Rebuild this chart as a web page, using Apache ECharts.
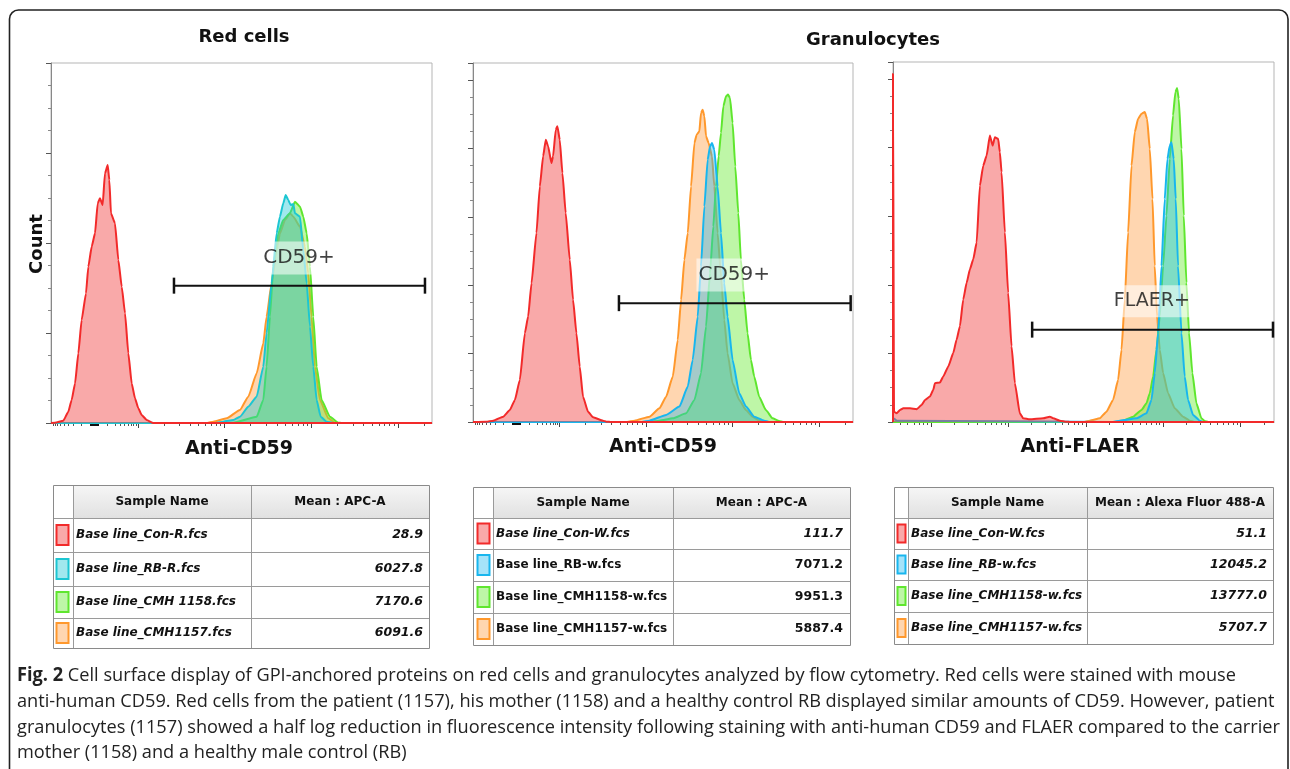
<!DOCTYPE html>
<html><head><meta charset="utf-8">
<script src="https://cdn.jsdelivr.net/npm/echarts@6/dist/echarts.min.js"></script>
<style>html,body{margin:0;padding:0;background:#fff;overflow:hidden}#c{width:1290px;height:769px}</style>
</head><body><div id="c"></div>
<script>
// ---------------- DATA ----------------
// x values are in decades of fluorescence (display units), y in relative count units
const panelTitles = ['Red cells', 'Granulocytes'];
const axisNames = ['Anti-CD59', 'Anti-CD59', 'Anti-FLAER'];
const yAxisName = 'Count';
const gateNames = ['CD59+', 'CD59+', 'FLAER+'];

const cd59Extent = [1.0, 5.39];
const flaerExtent = [0.51, 5.43];
const cd59MajorTicks = [2, 3, 4, 5];
const flaerMajorTicks = [1, 2, 3, 4, 5];
const cd59ZeroTick = [1.5];
const rbcCountMax = 4;
const granCountMax = 5.25;

// Panel 1: red cells, anti-CD59
const rbcCon = [[1.0,0],[1.046,0.003],[1.142,0.026],[1.20,0.126],[1.238,0.256],[1.277,0.44],[1.315,0.774],[1.353,1.144],[1.403,1.44],[1.43,1.737],[1.469,1.96],[1.507,2.107],[1.538,2.44],[1.564,2.496],[1.595,2.422],[1.622,2.774],[1.653,2.867],[1.672,2.70],[1.691,2.33],[1.737,2.219],[1.776,1.81],[1.815,1.514],[1.853,1.219],[1.891,0.774],[1.93,0.44],[1.968,0.274],[2.006,0.163],[2.045,0.089],[2.103,0.033],[2.179,0],[5.39,0]];
const rbcRB = [[1.0,0],[2.9,0],[2.985,0.015],[3.1,0.033],[3.177,0.07],[3.273,0.181],[3.37,0.293],[3.446,0.626],[3.484,0.996],[3.542,1.552],[3.6,2.107],[3.638,2.293],[3.676,2.441],[3.704,2.533],[3.734,2.478],[3.761,2.422],[3.792,2.433],[3.811,2.33],[3.869,2.293],[3.907,1.922],[3.946,1.552],[3.984,1.07],[4.022,0.626],[4.061,0.256],[4.107,0.07],[4.176,0.015],[4.25,0],[5.39,0]];
const rbcCMH1158 = [[1.0,0],[3.0,0],[3.1,0.004],[3.37,0.07],[3.446,0.256],[3.484,0.626],[3.523,1.181],[3.561,1.737],[3.619,2.107],[3.676,2.256],[3.753,2.33],[3.811,2.459],[3.869,2.404],[3.907,2.293],[3.946,2.107],[3.984,1.737],[4.022,1.181],[4.061,0.626],[4.118,0.256],[4.214,0.07],[4.31,0.004],[4.35,0],[5.39,0]];
const rbcCMH1157 = [[1.0,0],[2.8,0],[2.87,0.015],[3.024,0.052],[3.177,0.144],[3.273,0.293],[3.37,0.552],[3.446,0.885],[3.484,1.181],[3.542,1.552],[3.6,1.922],[3.638,2.107],[3.696,2.256],[3.753,2.33],[3.792,2.293],[3.869,2.181],[3.926,1.959],[3.964,1.663],[4.003,1.181],[4.041,0.626],[4.099,0.256],[4.195,0.052],[4.272,0.004],[4.3,0],[5.39,0]];

// Panel 2: granulocytes, anti-CD59
const granCon = [[1.0,0],[1.15,0.005],[1.234,0.02],[1.349,0.078],[1.426,0.176],[1.484,0.322],[1.541,0.615],[1.599,1.298],[1.637,1.542],[1.676,2.03],[1.733,2.763],[1.772,3.445],[1.81,3.885],[1.841,4.129],[1.868,4.031],[1.906,3.787],[1.925,3.885],[1.956,4.275],[1.975,4.324],[2.002,4.129],[2.033,3.641],[2.071,3.055],[2.118,2.372],[2.156,1.786],[2.195,1.298],[2.233,0.81],[2.271,0.37],[2.329,0.151],[2.387,0.068],[2.502,0.02],[2.54,0.005],[2.6,0],[5.39,0]];
const granRB = [[1.0,0],[2.95,0],[3.039,0.02],[3.231,0.103],[3.385,0.225],[3.481,0.518],[3.538,0.908],[3.596,1.542],[3.634,2.274],[3.673,3.153],[3.711,3.836],[3.738,4.031],[3.761,4.08],[3.788,3.982],[3.826,3.445],[3.865,2.763],[3.903,2.03],[3.941,1.542],[3.999,0.908],[4.076,0.42],[4.153,0.225],[4.249,0.078],[4.364,0.02],[4.42,0],[5.39,0]];
const granCMH1158 = [[1.0,0],[3.05,0],[3.154,0.02],[3.308,0.054],[3.462,0.127],[3.558,0.322],[3.634,0.713],[3.692,1.396],[3.738,2.177],[3.776,2.86],[3.807,3.445],[3.838,3.885],[3.865,4.227],[3.892,4.617],[3.923,4.764],[3.946,4.788],[3.969,4.739],[3.999,4.373],[4.03,3.738],[4.065,3.055],[4.095,2.372],[4.134,1.786],[4.172,1.298],[4.211,0.908],[4.249,0.664],[4.306,0.371],[4.383,0.176],[4.46,0.054],[4.537,0.015],[4.58,0],[5.39,0]];
const granCMH1157 = [[1.0,0],[2.78,0],[2.866,0.02],[3.039,0.078],[3.154,0.2],[3.231,0.371],[3.308,0.664],[3.365,1.2],[3.404,1.786],[3.442,2.372],[3.481,2.763],[3.519,3.445],[3.558,4.08],[3.584,4.202],[3.615,4.251],[3.634,4.52],[3.653,4.568],[3.673,4.471],[3.692,4.178],[3.722,4.08],[3.761,3.885],[3.788,3.445],[3.826,2.763],[3.865,2.128],[3.903,1.493],[3.941,1.005],[3.999,0.566],[4.076,0.322],[4.153,0.176],[4.229,0.078],[4.306,0.02],[4.36,0],[5.39,0]];

// Panel 3: granulocytes, FLAER
const flaerCon = [[0.51,0],[0.51,5.08],[0.523,0.15],[0.557,0.127],[0.6,0.176],[0.643,0.2],[0.729,0.2],[0.815,0.186],[0.88,0.249],[0.923,0.322],[0.987,0.371],[1.03,0.469],[1.052,0.566],[1.116,0.576],[1.159,0.664],[1.224,0.81],[1.288,1.005],[1.331,1.2],[1.374,1.396],[1.417,1.786],[1.461,2.03],[1.503,2.226],[1.546,2.372],[1.59,2.616],[1.632,3.445],[1.675,3.738],[1.719,3.885],[1.761,4.178],[1.796,4.031],[1.826,4.153],[1.868,4.129],[1.89,3.934],[1.912,3.641],[1.955,2.763],[1.997,1.884],[2.041,1.103],[2.084,0.566],[2.148,0.127],[2.191,0.054],[2.277,0.039],[2.449,0.054],[2.535,0.078],[2.578,0.054],[2.665,0.02],[2.751,0.005],[2.8,0],[5.43,0]];
const flaerRB = [[0.51,0],[0.51,0.06],[0.56,0.02],[3.35,0],[3.439,0.02],[3.654,0.054],[3.783,0.127],[3.848,0.322],[3.89,0.713],[3.933,1.298],[3.977,2.274],[4.019,3.251],[4.054,3.836],[4.084,4.031],[4.106,4.08],[4.135,3.836],[4.161,3.251],[4.191,2.274],[4.235,1.298],[4.277,0.664],[4.32,0.322],[4.385,0.103],[4.471,0.02],[4.52,0],[5.43,0]];
const flaerCMH1158 = [[0.51,0],[3.4,0],[3.482,0.02],[3.611,0.078],[3.719,0.176],[3.783,0.273],[3.826,0.42],[3.869,0.664],[3.912,1.054],[3.955,1.542],[3.998,2.274],[4.041,3.007],[4.084,3.836],[4.126,4.471],[4.157,4.813],[4.178,4.871],[4.2,4.715],[4.235,3.982],[4.265,3.007],[4.299,2.03],[4.333,1.298],[4.376,0.713],[4.428,0.273],[4.493,0.054],[4.535,0.015],[4.58,0],[5.43,0]];
const flaerCMH1157 = [[0.51,0],[2.98,0],[3.052,0.02],[3.181,0.054],[3.267,0.151],[3.352,0.322],[3.417,0.615],[3.461,1.054],[3.503,1.786],[3.546,2.763],[3.59,3.738],[3.632,4.227],[3.675,4.422],[3.719,4.495],[3.761,4.52],[3.791,4.422],[3.826,3.982],[3.861,3.251],[3.89,2.274],[3.92,1.542],[3.955,1.054],[3.998,0.713],[4.062,0.42],[4.148,0.2],[4.255,0.078],[4.342,0.02],[4.4,0],[5.43,0]];

// Gates: [start, end] and label position
const rbcGate = [[2.417,1.526],[5.309,1.526]];
const rbcGateLabel = [3.857,1.833];
const granCd59Gate = [[2.686,1.738],[5.363,1.738]];
const granCd59GateLabel = [4.018,2.15];
const flaerGate = [[2.307,1.347],[5.417,1.347]];
const flaerGateLabel = [3.852,1.761];

// Tables
const tableHeaders = ['Sample Name', 'Mean : APC-A', 'Mean : APC-A', 'Mean : Alexa Fluor 488-A'];
const rbcSamples = ['Base line_Con-R.fcs','Base line_RB-R.fcs','Base line_CMH 1158.fcs','Base line_CMH1157.fcs'];
const rbcMeans = ['28.9','6027.8','7170.6','6091.6'];
const granCd59Samples = ['Base line_Con-W.fcs','Base line_RB-w.fcs','Base line_CMH1158-w.fcs','Base line_CMH1157-w.fcs'];
const granCd59Means = ['111.7','7071.2','9951.3','5887.4'];
const granFlaerSamples = ['Base line_Con-W.fcs','Base line_RB-w.fcs','Base line_CMH1158-w.fcs','Base line_CMH1157-w.fcs'];
const granFlaerMeans = ['51.1','12045.2','13777.0','5707.7'];

const captionLines = [
  ['Fig. 2', ' Cell surface display of GPI-anchored proteins on red cells and granulocytes analyzed by flow cytometry. Red cells were stained with mouse'],
  ['', 'anti-human CD59. Red cells from the patient (1157), his mother (1158) and a healthy control RB displayed similar amounts of CD59. However, patient'],
  ['', 'granulocytes (1157) showed a half log reduction in fluorescence intensity following staining with anti-human CD59 and FLAER compared to the carrier'],
  ['', 'mother (1158) and a healthy male control (RB)']
];

// ---------------- STYLE ----------------
const C = {
  red: {line:'#f22a2a', fill:'rgba(242,60,60,0.44)'},
  teal: {line:'#1cc6d2', fill:'rgba(30,200,215,0.42)'},
  blue: {line:'#18b6ee', fill:'rgba(30,185,240,0.40)'},
  green: {line:'#5fe62e', fill:'rgba(110,236,60,0.45)'},
  orange: {line:'#ff982c', fill:'rgba(255,158,66,0.42)'}
};
const FONT = '"DejaVu Sans", "Liberation Sans", sans-serif';

function decadeMinors(d0, d1, ext) {
  const out = [];
  for (let d = d0; d <= d1; d++) for (let k = 2; k <= 9; k++) {
    const v = d + Math.log10(k);
    if (v > ext[0] && v < ext[1]) out.push(+v.toFixed(4));
  }
  return out;
}
function linRegionTicks(z) {
  const out = [];
  for (let k = 2; k <= 9; k++) { out.push(+(z + 0.5*Math.log10(k)).toFixed(4)); out.push(+(z - 0.5*Math.log10(k)).toFixed(4)); }
  return out;
}
const cd59Minor = decadeMinors(2, 5, cd59Extent).concat(linRegionTicks(cd59ZeroTick[0]));
const flaerMinor = decadeMinors(0, 5, flaerExtent);

const grids = [
  {left:51, top:63, width:381, height:360},
  {left:473, top:63, width:380, height:359},
  {left:893, top:62, width:381, height:360}
];
const panelExt = [cd59Extent, cd59Extent, flaerExtent];
const panelMajor = [cd59MajorTicks, cd59MajorTicks, flaerMajorTicks];
const panelMinor = [cd59Minor, cd59Minor, flaerMinor];
const panelZero = [cd59ZeroTick, cd59ZeroTick, []];
const panelYMax = [rbcCountMax, granCountMax, granCountMax];

const xAxis = [], yAxis = [];
grids.forEach((g, i) => {
  const ext = panelExt[i];
  const base = {type:'value', gridIndex:i, min:ext[0], max:ext[1], position:'bottom',
    axisLabel:{show:false}, splitLine:{show:false}, axisLine:{show:false, onZero:false}};
  xAxis.push(Object.assign({}, base, {axisLine:{show:true, onZero:false, lineStyle:{color:'#999', width:1}}, axisTick:{show:false}}));
  xAxis.push(Object.assign({}, base, {axisTick:{show:true, customValues:panelMinor[i], length:3, lineStyle:{color:'#555', width:1}}}));
  xAxis.push(Object.assign({}, base, {axisTick:{show:true, customValues:panelMajor[i], length:5, lineStyle:{color:'#444', width:1}}}));
  xAxis.push(Object.assign({}, base, {axisTick:{show:panelZero[i].length>0, customValues:panelZero[i], length:3, lineStyle:{color:'#111', width:9}}}));
  yAxis.push({type:'value', gridIndex:i, min:0, max:panelYMax[i], interval:1,
    axisLabel:{show:false}, splitLine:{show:false},
    axisLine:{show:true, lineStyle:{color:'#888', width:1}},
    axisTick:{show:true, length:5, lineStyle:{color:'#555'}},
    minorTick:{show:true, splitNumber:4, length:3, lineStyle:{color:'#888'}}});
});

function hist(data, col, i, z) {
  return {type:'line', xAxisIndex:i*4, yAxisIndex:i, data:data, symbol:'none', smooth:0.15, smoothMonotone:'x',
    lineStyle:{color:col.line, width:2}, areaStyle:{color:col.fill, opacity:1, origin:'start'}, z:z, silent:true, clip:true};
}
function gate(data, lbl, name, i, fs) {
  return [
    {type:'line', xAxisIndex:i*4, yAxisIndex:i, data:data, symbol:'rect', symbolSize:[2.5,16], itemStyle:{color:'#111'},
      lineStyle:{color:'#111', width:2}, z:8, silent:true},
    {type:'scatter', xAxisIndex:i*4, yAxisIndex:i, data:[lbl], symbolSize:0, z:9, silent:true,
      label:{show:true, position:'inside', formatter:name, fontFamily:FONT, fontSize:fs, color:'#111',
        backgroundColor:'rgba(255,255,255,0.7)', padding:[7,2,6,2]}}
  ];
}

const series = [
  hist(rbcCMH1157, C.orange, 0, 2), hist(rbcCMH1158, C.green, 0, 3), hist(rbcRB, C.teal, 0, 4), hist(rbcCon, C.red, 0, 5),
  hist(granCMH1157, C.orange, 1, 2), hist(granCMH1158, C.green, 1, 3), hist(granRB, C.blue, 1, 4), hist(granCon, C.red, 1, 5),
  hist(flaerCMH1157, C.orange, 2, 2), hist(flaerCMH1158, C.green, 2, 3), hist(flaerRB, C.blue, 2, 4), hist(flaerCon, C.red, 2, 5)
].concat(gate(rbcGate, rbcGateLabel, gateNames[0], 0, 20), gate(granCd59Gate, granCd59GateLabel, gateNames[1], 1, 20), gate(flaerGate, flaerGateLabel, gateNames[2], 2, 19));

// ---------------- GRAPHIC (frame, titles, tables, caption) ----------------
const graphic = [];
graphic.push({type:'rect', shape:{x:9.5, y:10, width:1278.5, height:800, r:9}, style:{fill:'none', stroke:'#222', lineWidth:1.6}, z:100, silent:true});
function txt(t, x, y, font, opts) {
  return Object.assign({type:'text', x:x, y:y, silent:true, z:100, style:{text:t, x:0, y:0, font:font, fill:'#111', align:'center', verticalAlign:'middle'}}, opts||{});
}
graphic.push(txt(panelTitles[0], 244, 37, 'bold 18px ' + FONT));
graphic.push(txt(panelTitles[1], 873, 40, 'bold 18px ' + FONT));
graphic.push(txt(yAxisName, 37, 244, 'bold 18px ' + FONT, {rotation:Math.PI/2}));
graphic.push(txt(axisNames[0], 239, 449, 'bold 19px ' + FONT));
graphic.push(txt(axisNames[1], 663, 447, 'bold 19px ' + FONT));
graphic.push(txt(axisNames[2], 1080, 447, 'bold 19px ' + FONT));

const swatchCols = [C.red, C.teal, C.green, C.orange];
const swatchCols2 = [C.red, C.blue, C.green, C.orange];
const tables = [
  {xs:[53,73,251,429], ys:[485,518,552,586,618,648], sw:[56,12,20], tx:76, vx:423, header:tableHeaders[1], names:rbcSamples, vals:rbcMeans, italic:[true,true,true,true], cols:swatchCols},
  {xs:[473,493,673,850], ys:[487,518,549,581,613,645], sw:[477,12,20], tx:496, vx:843, header:tableHeaders[2], names:granCd59Samples, vals:granCd59Means, italic:[true,false,false,false], cols:swatchCols2},
  {xs:[894,908,1087,1273], ys:[487,518,549,580,612,644], sw:[897,8,18], tx:911, vx:1267, header:tableHeaders[3], names:granFlaerSamples, vals:granFlaerMeans, italic:[true,true,true,true], cols:swatchCols2}
];
tables.forEach(t => {
  const x0 = t.xs[0], x3 = t.xs[3], y0 = t.ys[0], y5 = t.ys[5];
  graphic.push({type:'rect', shape:{x:t.xs[1], y:y0, width:x3-t.xs[1], height:t.ys[1]-y0}, silent:true, z:90,
    style:{fill:{type:'linear', x:0, y:0, x2:0, y2:1, colorStops:[{offset:0, color:'#f6f6f6'},{offset:1, color:'#e1e1e1'}]}}});
  t.ys.slice(1,5).forEach(y => graphic.push({type:'line', shape:{x1:x0, y1:y+0.5, x2:x3, y2:y+0.5}, style:{stroke:'#9a9a9a', lineWidth:1}, z:91, silent:true}));
  [t.xs[1], t.xs[2]].forEach(x => graphic.push({type:'line', shape:{x1:x+0.5, y1:y0, x2:x+0.5, y2:y5}, style:{stroke:'#9a9a9a', lineWidth:1}, z:91, silent:true}));
  graphic.push({type:'rect', shape:{x:x0+0.5, y:y0+0.5, width:x3-x0, height:y5-y0}, style:{fill:'none', stroke:'#8a8a8a', lineWidth:1}, z:92, silent:true});
  const hy = (y0 + t.ys[1]) / 2;
  graphic.push(txt(tableHeaders[0], (t.xs[1]+t.xs[2])/2, hy, 'bold 12px ' + FONT, {z:93}));
  graphic.push(txt(t.header, (t.xs[2]+t.xs[3])/2, hy, 'bold 12px ' + FONT, {z:93}));
  for (let r = 0; r < 4; r++) {
    const cy = (t.ys[r+1] + t.ys[r+2]) / 2;
    const f = (t.italic[r] ? 'italic ' : '') + 'bold 12px ' + FONT;
    graphic.push({type:'rect', shape:{x:t.sw[0]+0.5, y:cy - t.sw[2]/2, width:t.sw[1], height:t.sw[2]}, z:93, silent:true,
      style:{fill:t.cols[r].fill, stroke:t.cols[r].line, lineWidth:2}});
    const a = txt(t.names[r], t.tx, cy, f, {z:93}); a.style.align = 'left'; graphic.push(a);
    const b = txt(t.vals[r], t.vx, cy, 'bold 12.5px ' + FONT, {z:93}); b.style.font = (t.italic[r] ? 'italic ' : '') + 'bold 12.5px ' + FONT; b.style.align = 'right'; graphic.push(b);
  }
});

// caption
const CAP_FONT = '"Open Sans", "Noto Sans", sans-serif';
const capSize = 19;
const mctx = document.createElement('canvas').getContext('2d');
function mw(s, bold) { mctx.font = (bold ? 'bold ' : '') + capSize + 'px ' + CAP_FONT; return mctx.measureText(s).width; }
const refW = mw(captionLines[0][0], true) + mw(captionLines[0][1], false);
const capScale = 1219 / refW;
const capYs = [676, 702, 727.5, 753];
captionLines.forEach((ln, i) => {
  graphic.push({type:'text', x:17, y:capYs[i], scaleX:capScale, silent:true, z:100,
    style:{text:(ln[0] ? '{b|' + ln[0] + '}' : '') + ln[1], x:0, y:0, font:capSize + 'px ' + CAP_FONT, fill:'#222', align:'left', verticalAlign:'middle',
      rich:{b:{font:'bold ' + capSize + 'px ' + CAP_FONT, fill:'#222'}}}});
});

const chart = echarts.init(document.getElementById('c'), null, {renderer:'canvas'});
chart.setOption({
  animation:false,
  backgroundColor:'#fff',
  grid: grids.map(g => Object.assign({show:true, borderColor:'#b5b5b5', borderWidth:1, backgroundColor:'transparent', containLabel:false}, g)),
  xAxis: xAxis, yAxis: yAxis, series: series, graphic: graphic
});
</script></body></html>
